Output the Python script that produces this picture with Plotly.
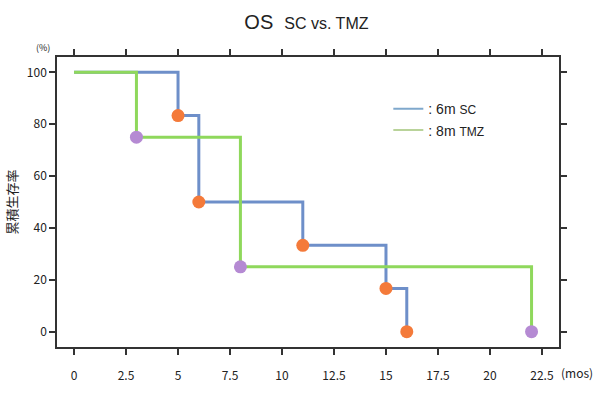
import plotly.graph_objects as go

# Data
sc_time = [0, 5, 6, 11, 15, 16]
sc_surv = [100, 83.3, 50, 33.3, 16.7, 0]
tmz_time = [0, 3, 8, 22]
tmz_surv = [100, 75, 25, 0]
x_ticks = [0, 2.5, 5, 7.5, 10, 12.5, 15, 17.5, 20, 22.5]
x_labels = ["0", "2.5", "5", "7.5", "10", "12.5", "15", "17.5", "20", "22.5"]
y_ticks = [0, 20, 40, 60, 80, 100]

BLUE = "#6e8fc9"
GREEN = "#8fd85c"
ORANGE = "#f47a3a"
PURPLE = "#b58ad3"
AXC = "#333333"
FONT = "Noto Sans CJK JP"

fig = go.Figure()
fig.add_trace(go.Scatter(x=sc_time, y=sc_surv, mode="lines", line=dict(color=BLUE, width=3, shape="hv"),
                         showlegend=False, hoverinfo="skip"))
fig.add_trace(go.Scatter(x=tmz_time, y=tmz_surv, mode="lines", line=dict(color=GREEN, width=3, shape="hv"),
                         showlegend=False, hoverinfo="skip"))
fig.add_trace(go.Scatter(x=sc_time[1:], y=sc_surv[1:], mode="markers",
                         marker=dict(color=ORANGE, size=13, line=dict(width=0)), showlegend=False))
fig.add_trace(go.Scatter(x=tmz_time[1:], y=tmz_surv[1:], mode="markers",
                         marker=dict(color=PURPLE, size=13, line=dict(width=0)), showlegend=False))
# legend entries
fig.add_trace(go.Scatter(x=[None], y=[None], mode="lines", line=dict(color="#7fa8cc", width=2),
                         name=": 6m <span style='font-size:12px'>SC</span>"))
fig.add_trace(go.Scatter(x=[None], y=[None], mode="lines", line=dict(color="#b9d39a", width=2),
                         name=": 8m <span style='font-size:12px'>TMZ</span>"))

fig.update_layout(
    width=595, height=395,
    margin=dict(l=56, r=36, t=57, b=33),
    paper_bgcolor="white", plot_bgcolor="white",
    font=dict(family=FONT, size=12, color="#222222"),
    title=dict(text="OS  <span style='font-size:16px'>SC vs. TMZ</span>",
               font=dict(family="Liberation Sans", size=20, color="#222222"),
               x=0.515, xanchor="center", y=0.945, yanchor="middle"),
    legend=dict(x=0.66, y=0.875, xanchor="left", yanchor="top", bgcolor="rgba(0,0,0,0)",
                font=dict(family="Liberation Sans", size=14, color="#222222"), tracegroupgap=8,
                itemwidth=30),
    showlegend=True,
)
fig.update_xaxes(range=[-0.82, 23.32], tickvals=x_ticks, ticktext=x_labels,
                 showgrid=False, zeroline=False, showline=True, linecolor=AXC, linewidth=1.5,
                 mirror="ticks", ticks="outside", ticklen=6, tickcolor=AXC, tickwidth=1.5,
                 ticklabelstandoff=11, tickfont=dict(family=FONT, size=12))
fig.update_yaxes(range=[-5.9, 105.9], tickvals=y_ticks,
                 showgrid=False, zeroline=False, showline=True, linecolor=AXC, linewidth=1.5,
                 mirror="ticks", ticks="outside", ticklen=6, tickcolor=AXC, tickwidth=1.5,
                 tickfont=dict(family=FONT, size=12),
                 title=dict(text="累積生存率", font=dict(family=FONT, size=13), standoff=6))
fig.add_annotation(text="(mos)", xref="paper", yref="paper", x=(577 - 56) / 503, y=-(389 - 362) / 305,
                   showarrow=False, xanchor="center", yanchor="middle", font=dict(family=FONT, size=12))
fig.add_annotation(text="(%)", xref="paper", yref="paper", x=(42 - 56) / 503, y=(362 - 55) / 305,
                   showarrow=False, xanchor="center", yanchor="bottom", font=dict(family=FONT, size=9),
                   borderpad=0)

fig.write_html("out.html")
